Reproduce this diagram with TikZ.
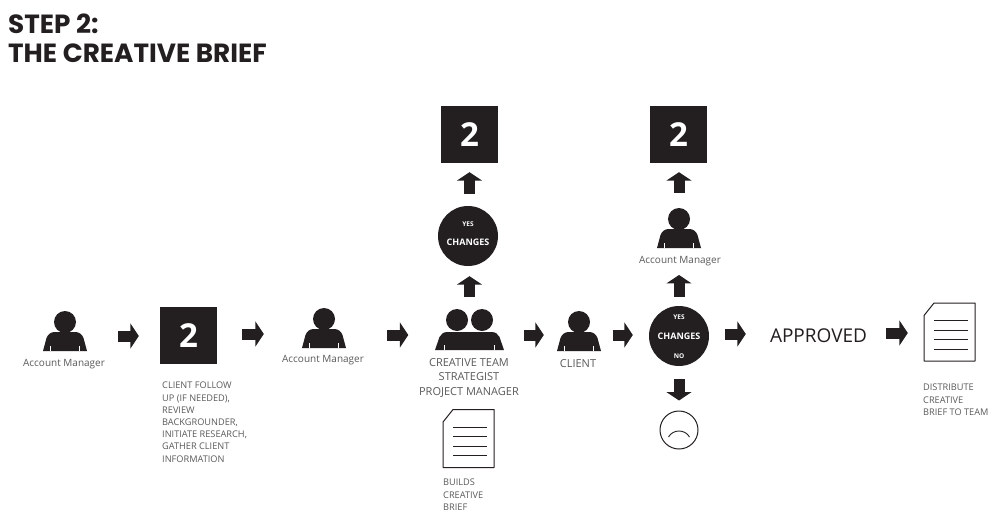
\documentclass[tikz,border=0pt]{standalone}
\usepackage{xcolor}
\usepackage{fontspec}
\setmainfont{Open Sans}
\newfontfamily\titlefont{Poppins}
\usetikzlibrary{arrows.meta}
\definecolor{inkblack}{HTML}{231F20}
\definecolor{labelgray}{HTML}{5A5A5A}

\begin{document}
\begin{tikzpicture}[
    x=1pt, y=-1pt,
    title/.style={anchor=north west, align=left, inner sep=0pt, text=inkblack, font=\titlefont\bfseries\fontsize{26.3}{29.5}\selectfont},
    iconbox/.style={minimum width=#1, minimum height=44pt, inner sep=0pt},
    numbox/.style={fill=inkblack, text=white, minimum size=57pt, inner sep=0pt, font=\bfseries\fontsize{33}{33}\selectfont},
    chgdot/.style={circle, fill=inkblack, text=white, minimum size=60pt, inner sep=0pt, font=\bfseries\fontsize{9}{9}\selectfont},
    chgmark/.style={text=white, inner sep=0pt, font=\bfseries\fontsize{6.5}{6.5}\selectfont},
    who/.style={text=labelgray, inner sep=0pt, font=\fontsize{10}{10}\selectfont},
    whobig/.style={text=labelgray, inner sep=0pt, align=center, font=\fontsize{11}{14.5}\selectfont},
    note/.style={anchor=north west, text=labelgray, inner sep=0pt, align=left, font=\fontsize{9.2}{12.2}\selectfont},
    blockarrow/.style={draw=inkblack, line width=11pt, -{Triangle[length=8.5pt,width=25pt]}, inkblack},
    person/.pic={
        \fill[inkblack] (0,-14) circle (11);
        \fill[inkblack] (-22,15) -- (-18.5,2) .. controls (-17,-2) and (-14,-4) .. (-10,-4) -- (10,-4)
            .. controls (14,-4) and (17,-2) .. (18.5,2) -- (22,15) -- cycle;
        \draw[white, line width=0.5pt] (-14.5,10) -- (-14.5,15) (14.5,10) -- (14.5,15);
    },
    team/.pic={
        \fill[inkblack] (-12.5,-15) circle (11) (12.5,-15) circle (11);
        \fill[inkblack] (-34.5,15) -- (-30,2) .. controls (-28.5,-1) and (-26,-3) .. (-22,-3) -- (22,-3)
            .. controls (26,-3) and (28.5,-1) .. (30,2) -- (34.5,15) -- cycle;
        \draw[white, line width=0.5pt] (-25,10) -- (-25,15) (25,10) -- (25,15);
    },
    sheet/.pic={
        \draw[inkblack, line width=1pt, line join=round] (-25.5,-16.5) -- (-15.5,-29) -- (25.5,-29) -- (25.5,29) -- (-25.5,29) -- cycle;
        \foreach \ly in {-11.5,-2,7.5,17}
            \draw[inkblack, line width=1pt] (-15.5,\ly) -- (18.5,\ly);
    }
]
    \useasboundingbox[fill=white] (0,0) rectangle (1000,527);

    \node[title] (head) at (8,13.5) {STEP 2:\\THE CREATIVE BRIEF};

    % main row
    \node[iconbox=44pt] (am1) at (65,336) {};
    \pic at (am1) {person};
    \node[who] (am1txt) at (64,364) {Account Manager};
    \node[numbox] (num1) at (188.5,335.5) {2};
    \node[note] (num1txt) at (162,382) {CLIENT FOLLOW\\UP (IF NEEDED),\\REVIEW\\BACKGROUNDER,\\INITIATE RESEARCH,\\GATHER CLIENT\\INFORMATION};
    \node[iconbox=44pt] (am2) at (324,333) {};
    \pic at (am2) {person};
    \node[who] (am2txt) at (323,360) {Account Manager};
    \node[iconbox=70pt] (crew) at (469.5,335) {};
    \pic at (crew) {team};
    \node[whobig] (crewtxt) at (469,378) {CREATIVE TEAM\\STRATEGIST\\PROJECT MANAGER};
    \node[iconbox=44pt] (cli) at (579,336) {};
    \pic at (cli) {person};
    \node[whobig] (clitxt) at (578,363.5) {CLIENT};
    \node[chgdot] (chg2) at (679,336) {CHANGES};
    \node[chgmark] (chg2yes) at (679,317) {YES};
    \node[chgmark] (chg2no) at (679,356) {NO};
    \node[text=inkblack, inner sep=0pt, font=\fontsize{19}{19}\selectfont] (appr) at (818.5,336) {APPROVED};
    \node[iconbox=51pt] (doc2) at (949.5,332) {};
    \pic at (doc2) {sheet};
    \node[note] (doc2txt) at (923,384) {DISTRIBUTE\\CREATIVE\\BRIEF TO TEAM};

    % upper and lower branches
    \node[iconbox=51pt] (doc1) at (468.5,438.5) {};
    \pic at (doc1) {sheet};
    \node[note] (doc1txt) at (443,479) {BUILDS\\CREATIVE\\BRIEF};
    \node[chgdot] (chg1) at (468,236) {};
    \node[text=white, inner sep=0pt, font=\bfseries\fontsize{9}{9}\selectfont] (chg1txt) at (468,242) {CHANGES};
    \node[chgmark] (chg1yes) at (468,224) {YES};
    \node[numbox] (num2) at (469.5,134.5) {2};
    \node[iconbox=44pt] (am3) at (679,233) {};
    \pic at (am3) {person};
    \node[who] (am3txt) at (680,261) {Account Manager};
    \node[numbox] (num3) at (678.5,134.5) {2};
    \node[circle, draw=inkblack, line width=1pt, minimum size=38pt, inner sep=0pt] (sad) at (679,430) {};
    \coordinate (sadl) at (668.5,437);
    \coordinate (sadr) at (689.5,437);
    \draw[inkblack, line width=0.9pt] (sadl) .. controls (673,429) and (685,429) .. (sadr);

    % horizontal arrows
    \draw[blockarrow, shorten <=31pt, shorten >=21pt] (am1.east |- am1) -- (num1.west |- am1);
    \draw[blockarrow, shorten <=25pt, shorten >=38pt] ([yshift=1.5pt]num1.east) -- ([yshift=1.5pt]num1.east -| am2.west);
    \draw[blockarrow, shorten <=41pt, shorten >=26pt] ([yshift=-2pt]am2.east) -- ([yshift=-2pt]am2.east -| crew.west);
    \draw[blockarrow, shorten <=19pt, shorten >=13pt] (crew.east) -- (crew.east -| cli.west);
    \draw[blockarrow, shorten <=11.5pt, shorten >=16pt] ([yshift=1pt]cli.east) -- ([yshift=1pt]cli.east -| chg2.west);
    \draw[blockarrow, shorten <=16pt, shorten >=24pt] ([yshift=2pt]chg2.east) -- ([yshift=2pt]chg2.east -| appr.west);
    \draw[blockarrow, shorten <=19pt, shorten >=16pt] ([yshift=3pt]appr.east) -- ([yshift=3pt]appr.east -| doc2.west);

    % vertical arrows
    \draw[blockarrow, shorten <=16pt, shorten >=10pt] (crew.north -| num2) -- (chg1.south -| num2);
    \draw[blockarrow, shorten <=12pt, shorten >=9pt] (chg1.north -| num2) -- (num2.south);
    \draw[blockarrow, shorten <=9pt, shorten >=9pt] (chg2.north) -- (am3txt.south -| chg2);
    \draw[blockarrow, shorten <=18pt, shorten >=9pt] (am3.north) -- (num3.south -| am3);
    \draw[blockarrow, shorten <=13pt, shorten >=10pt] (chg2.south) -- (sad.north);
\end{tikzpicture}
\end{document}
